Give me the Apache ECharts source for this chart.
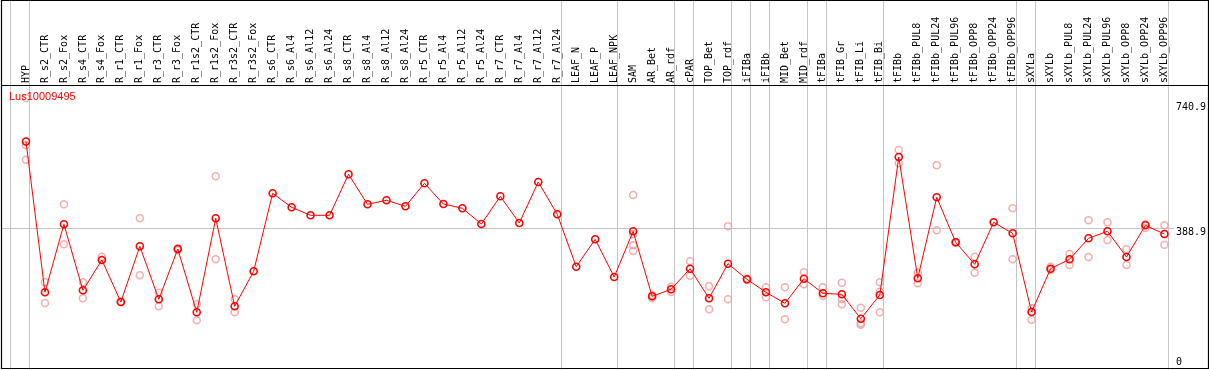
<!DOCTYPE html>
<html>
<head>
<meta charset="utf-8">
<script src="https://cdn.jsdelivr.net/npm/echarts@6/dist/echarts.min.js"></script>
<style>html,body{margin:0;padding:0;background:#fff;}#c{width:1209px;height:370px;}</style>
</head>
<body>
<div id="c"></div>
<script>
var chartTitle = 'Lus10009495';
var categories = ['HYP','R_s2_CTR','R_s2_Fox','R_s4_CTR','R_s4_Fox','R_r1_CTR','R_r1_Fox','R_r3_CTR','R_r3_Fox','R_r1s2_CTR','R_r1s2_Fox','R_r3s2_CTR','R_r3s2_Fox','R_s6_CTR','R_s6_Al4','R_s6_Al12','R_s6_Al24','R_s8_CTR','R_s8_Al4','R_s8_Al12','R_s8_Al24','R_r5_CTR','R_r5_Al4','R_r5_Al12','R_r5_Al24','R_r7_CTR','R_r7_Al4','R_r7_Al12','R_r7_Al24','LEAF_N','LEAF_P','LEAF_NPK','SAM','AR_Bet','AR_rdf','cPAR','TOP_Bet','TOP_rdf','iFIBa','iFIBb','MID_Bet','MID_rdf','tFIBa','tFIB_Gr','tFIB_Li','tFIB_Bi','tFIBb','tFIBb_PUL8','tFIBb_PUL24','tFIBb_PUL96','tFIBb_OPP8','tFIBb_OPP24','tFIBb_OPP96','sXYLa','sXYLb','sXYLb_PUL8','sXYLb_PUL24','sXYLb_PUL96','sXYLb_OPP8','sXYLb_OPP24','sXYLb_OPP96'];
var meanValues = [640.6,202.5,400.1,208.3,296.4,174.3,336.2,182.2,328.3,144.4,417.5,161.8,263.5,490.2,449.5,426.2,426.2,545.4,458.2,469.8,452.4,519.2,459.1,446.6,401.0,481.4,403.9,523.0,429.1,276.9,356.5,247.0,379.7,190.9,211.2,271.1,185.1,285.6,240.3,202.5,170.6,242.0,199.6,196.7,125.8,194.7,595.6,243.2,478.5,347.8,283.9,405.9,373.9,145.3,271.1,298.4,359.4,379.7,305.1,397.2,371.9];
var replicateValues = [
 ['HYP',767.0],['HYP',629.6],['HYP',587.8],
 ['R_s2_CTR',231.6],['R_s2_CTR',171.4],
 ['R_s2_Fox',458.2],['R_s2_Fox',342.0],
 ['R_s4_CTR',231.6],['R_s4_CTR',185.1],
 ['R_s4_Fox',306.0],['R_s4_Fox',296.4],
 ['R_r1_CTR',174.3],['R_r1_CTR',176.0],
 ['R_r1_Fox',417.5],['R_r1_Fox',251.9],
 ['R_r3_CTR',201.3],['R_r3_CTR',161.8],
 ['R_r3_Fox',330.3],['R_r3_Fox',324.5],
 ['R_r1s2_CTR',168.5],['R_r1s2_CTR',121.2],
 ['R_r1s2_Fox',539.5],['R_r1s2_Fox',298.4],
 ['R_r3s2_CTR',182.2],['R_r3s2_CTR',144.4],
 ['SAM',485.2],['SAM',371.9],['SAM',339.1],['SAM',322.5],
 ['AR_Bet',194.7],['AR_Bet',186.0],
 ['AR_rdf',218.8],['AR_rdf',203.4],
 ['cPAR',292.6],['cPAR',250.7],
 ['TOP_Bet',219.9],['TOP_Bet',153.1],
 ['TOP_rdf',394.3],['TOP_rdf',182.2],
 ['iFIBa',242.0],['iFIBa',238.2],
 ['iFIBb',217.0],['iFIBb',188.0],
 ['MID_Bet',217.0],['MID_Bet',124.1],
 ['MID_rdf',260.6],['MID_rdf',225.8],
 ['tFIBa',217.0],['tFIBa',192.6],
 ['tFIB_Gr',230.4],['tFIB_Gr',183.0],['tFIB_Gr',167.6],
 ['tFIB_Li',157.8],['tFIB_Li',112.4],['tFIB_Li',108.4],
 ['tFIB_Bi',231.6],['tFIB_Bi',204.3],['tFIB_Bi',144.4],
 ['tFIBb',616.0],['tFIBb',577.3],
 ['tFIBb_PUL8',259.5],['tFIBb_PUL8',228.7],
 ['tFIBb_PUL24',571.5],['tFIBb_PUL24',382.7],
 ['tFIBb_PUL96',349.5],['tFIBb_PUL96',346.0],
 ['tFIBb_OPP8',306.0],['tFIBb_OPP8',259.5],
 ['tFIBb_OPP96',446.6],['tFIBb_OPP96',298.4],
 ['sXYLa',156.0],['sXYLa',122.9],
 ['sXYLb',276.9],['sXYLb',267.3],
 ['sXYLb_PUL8',313.8],['sXYLb_PUL8',281.8],
 ['sXYLb_PUL24',411.7],['sXYLb_PUL24',305.1],
 ['sXYLb_PUL96',405.9],['sXYLb_PUL96',354.5],
 ['sXYLb_OPP8',327.4],['sXYLb_OPP8',281.8],
 ['sXYLb_OPP24',400.1],['sXYLb_OPP24',389.3],
 ['sXYLb_OPP96',397.2],['sXYLb_OPP96',340.8]
];
var yTickValues = [0, 388.9, 740.9];
var yAxisMax = 740.9;
var referenceLineValue = 388.9;
// last category of each group (separator lines drawn after these); '' = before first
var groupEnds = ['', 'HYP','R_r7_Al24','LEAF_NPK','AR_rdf','cPAR','TOP_rdf','iFIBa','iFIBb','MID_rdf','tFIBa','tFIB_Bi','tFIBb_OPP96','sXYLa','sXYLb_OPP96'];

var chart = echarts.init(document.getElementById('c'), null, {renderer:'canvas'});
var labelFont = {color: '#000', fontSize: 10, fontFamily: 'DejaVu Sans Mono'};
var option = {
  animation: false,
  backgroundColor: '#fff',
  title: {
    text: chartTitle, left: 9, top: 91, padding: 0,
    textStyle: {color: '#ff0000', fontSize: 11, fontWeight: 'normal', fontFamily: 'Liberation Sans'}
  },
  grid: {left: 16.5, right: 32.9, top: 107, bottom: 8, containLabel: false},
  xAxis: {
    type: 'category', data: categories, position: 'top', offset: 22, boundaryGap: true,
    axisLine: {show: false}, axisTick: {show: false}, splitLine: {show: false},
    axisLabel: {rotate: 90, interval: 0, margin: 2, color: '#000', fontSize: 10, fontFamily: 'DejaVu Sans Mono'}
  },
  yAxis: {
    type: 'value', position: 'right', min: 0, max: yAxisMax,
    axisLine: {show: false}, axisTick: {show: false}, splitLine: {show: false},
    axisLabel: {customValues: yTickValues, margin: 2, color: '#000', fontSize: 10, fontFamily: 'DejaVu Sans Mono',
      formatter: function(v){ return v === referenceLineValue ? '{d|' + v + '}' : String(v); },
      rich: {d: {color: '#000', fontSize: 10, fontFamily: 'DejaVu Sans Mono', padding: [8, 0, 0, 0]}}}
  },
  series: [
    {
      type: 'scatter', data: replicateValues, clip: false, z: 3,
      symbol: 'circle', symbolSize: 7,
      itemStyle: {color: 'rgba(0,0,0,0)', borderColor: '#f09a9a', borderWidth: 1.5}
    },
    {
      type: 'line', data: meanValues, clip: false, z: 4,
      symbol: 'circle', symbolSize: 7, showSymbol: true,
      lineStyle: {color: '#ff0000', width: 1},
      itemStyle: {color: 'rgba(0,0,0,0)', borderColor: '#ff0000', borderWidth: 1.6}
    }
  ]
};
chart.setOption(option);

var x0 = chart.convertToPixel({xAxisIndex: 0}, 0);
var x1 = chart.convertToPixel({xAxisIndex: 0}, 1);
var step = x1 - x0;
var refY = chart.convertToPixel({yAxisIndex: 0}, referenceLineValue);
var gridRight = chart.convertToPixel({xAxisIndex: 0}, categories.length - 1) + step / 2;
var graphics = [];
groupEnds.forEach(function(name){
  var idx = name === '' ? -1 : categories.indexOf(name);
  var x = Math.floor(x0 + idx * step + step * 0.2) + 0.5;
  graphics.push({type: 'line', z: 0, silent: true,
    shape: {x1: x, y1: 0, x2: x, y2: 370}, style: {stroke: '#c4c4c4', lineWidth: 1}});
});
graphics.push({type: 'line', z: 0, silent: true,
  shape: {x1: 1, y1: Math.round(refY) + 0.5, x2: gridRight, y2: Math.round(refY) + 0.5},
  style: {stroke: '#c4c4c4', lineWidth: 1}});
// frame
graphics.push({type: 'rect', z: 1, silent: true,
  shape: {x: 1.5, y: 0.5, width: 1207, height: 368}, style: {fill: null, stroke: '#000', lineWidth: 1.2}});
graphics.push({type: 'line', z: 1, silent: true,
  shape: {x1: 1.5, y1: 85.5, x2: 1208.5, y2: 85.5}, style: {stroke: '#000', lineWidth: 1.2}});
chart.setOption({graphic: graphics});
</script>
</body>
</html>
